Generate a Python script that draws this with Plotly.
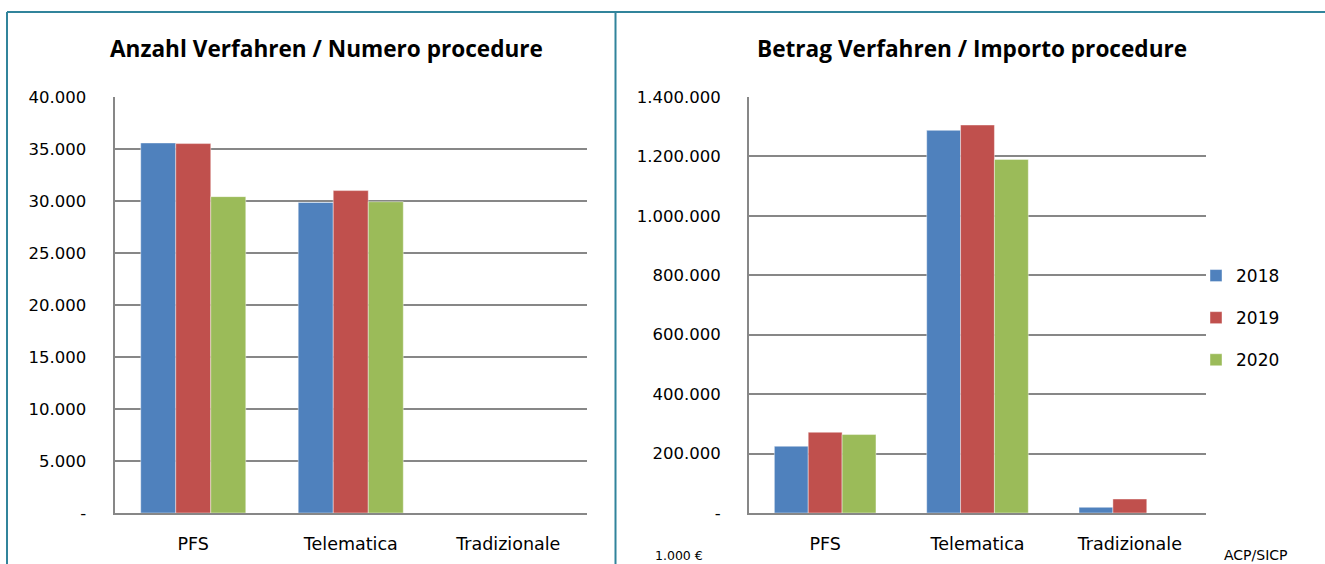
import plotly.graph_objects as go

# ---------------- data ----------------
categories = ["PFS", "Telematica", "Tradizionale"]
years = ["2018", "2019", "2020"]

count_2018 = [35580, 29860, 0]
count_2019 = [35520, 31000, 0]
count_2020 = [30420, 29930, 0]

amount_2018 = [224600, 1287700, 19000]
amount_2019 = [271700, 1305700, 47000]
amount_2020 = [264000, 1190000, 0]

count_tickvals = [0, 5000, 10000, 15000, 20000, 25000, 30000, 35000, 40000]
count_ticktext = ["-", "5.000", "10.000", "15.000", "20.000", "25.000", "30.000", "35.000", "40.000"]
amount_tickvals = [0, 200000, 400000, 600000, 800000, 1000000, 1200000, 1400000]
amount_ticktext = ["-", "200.000", "400.000", "600.000", "800.000", "1.000.000", "1.200.000", "1.400.000"]

title_left = "Anzahl Verfahren / Numero procedure"
title_right = "Betrag Verfahren / Importo procedure"
note_left = "1.000 €"
note_right = "ACP/SICP"

colors = ["#4F81BD", "#C0504D", "#9BBB59"]

# ---------------- layout helpers ----------------
W, H = 1325, 564
def px(x):
    return x / W
def py(y):
    return (H - y) / H

GRID = "#878787"
BORDER = "#31849B"
TICK_FONT = dict(family="DejaVu Sans", size=16.5, color="#000000")
CAT_FONT = dict(family="DejaVu Sans", size=17.5, color="#000000")

fig = go.Figure()

counts = [count_2018, count_2019, count_2020]
amounts = [amount_2018, amount_2019, amount_2020]

for i, yr in enumerate(years):
    fig.add_trace(go.Bar(
        x=categories, y=counts[i], name=yr, marker_color=colors[i],
        marker_line=dict(width=0.6, color="rgba(255,255,255,0.7)"),
        xaxis="x", yaxis="y", showlegend=False, legendgroup=yr,
    ))
for i, yr in enumerate(years):
    fig.add_trace(go.Bar(
        x=categories, y=amounts[i], name=yr, marker_color=colors[i],
        marker_line=dict(width=0.6, color="rgba(255,255,255,0.7)"),
        xaxis="x2", yaxis="y2", showlegend=True, legendgroup=yr,
    ))

ydom = [py(513), py(97)]
common_x = dict(showline=True, linecolor=GRID, linewidth=2, showgrid=False,
                ticks="", tickfont=CAT_FONT, ticklabelstandoff=14,
                fixedrange=True, automargin=False)
common_y = dict(showline=True, linecolor=GRID, linewidth=2, showgrid=True,
                gridcolor=GRID, gridwidth=2, zeroline=False, ticks="",
                tickfont=TICK_FONT, ticklabelstandoff=23,
                fixedrange=True, automargin=False)

fig.update_layout(
    width=W, height=H,
    margin=dict(l=0, r=0, t=0, b=0, pad=0, autoexpand=False),
    paper_bgcolor="white", plot_bgcolor="white",
    barmode="group", bargap=0.333, bargroupgap=0,
    xaxis=dict(domain=[px(114.5), px(587)], anchor="y", **common_x),
    yaxis=dict(domain=ydom, anchor="x", range=[0, 40000],
               tickvals=count_tickvals, ticktext=count_ticktext, **common_y),
    xaxis2=dict(domain=[px(749), px(1206)], anchor="y2", **common_x),
    yaxis2=dict(domain=ydom, anchor="x2", range=[0, 1400000],
                tickvals=amount_tickvals, ticktext=amount_ticktext, **common_y),
    legend=dict(x=px(1196), y=py(318), xanchor="left", yanchor="middle",
                font=dict(family="DejaVu Sans", size=17, color="#000000"),
                tracegroupgap=17, bgcolor="rgba(0,0,0,0)", itemclick=False),
    showlegend=True,
)

ann_font_title = dict(family="Open Sans", size=22.6, color="#000000", weight="bold")
fig.add_annotation(text=title_left, x=px(326), y=py(48),
                   xref="paper", yref="paper", showarrow=False,
                   xanchor="center", yanchor="middle", font=ann_font_title)
fig.add_annotation(text=title_right, x=px(972), y=py(48),
                   xref="paper", yref="paper", showarrow=False,
                   xanchor="center", yanchor="middle", font=ann_font_title)
fig.add_annotation(text=note_left, x=px(653), y=py(555),
                   xref="paper", yref="paper", showarrow=False,
                   xanchor="left", yanchor="middle",
                   font=dict(family="DejaVu Sans", size=12.5, color="#000000"))
fig.add_annotation(text=note_right, x=px(1290), y=py(555),
                   xref="paper", yref="paper", showarrow=False,
                   xanchor="right", yanchor="middle",
                   font=dict(family="DejaVu Sans", size=14, color="#000000"))

# panel borders
border = dict(color=BORDER, width=2)
fig.add_shape(type="line", xref="paper", yref="paper",
              x0=px(7), x1=px(7), y0=py(12), y1=py(564), line=border)
fig.add_shape(type="line", xref="paper", yref="paper",
              x0=px(7), x1=px(1325), y0=py(12), y1=py(12), line=border)
fig.add_shape(type="line", xref="paper", yref="paper",
              x0=px(615.5), x1=px(615.5), y0=py(12), y1=py(564), line=border)

# remove the page's default body margin so the figure sits at the window's origin
fig.write_html("out.html", post_script="document.body.style.margin='0';",
               config={"displayModeBar": False})
